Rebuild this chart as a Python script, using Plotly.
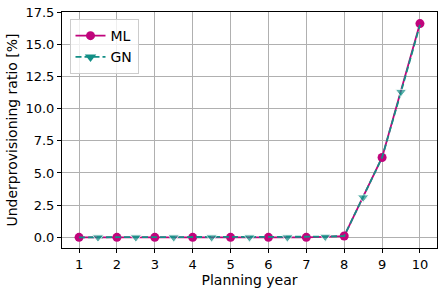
import plotly.graph_objects as go

ml_years = [1, 2, 3, 4, 5, 6, 7, 8, 9, 10]
ml_values = [0.0, 0.0, 0.0, 0.0, 0.0, 0.0, 0.0, 0.1, 6.2, 16.6]

gn_years = [1, 1.5, 2, 2.5, 3, 3.5, 4, 4.5, 5, 5.5, 6, 6.5, 7, 7.5, 8, 8.5, 9, 9.5, 10]
gn_values = [0.0, 0.0, 0.0, 0.0, 0.0, 0.0, 0.0, 0.0, 0.0, 0.0, 0.0, 0.0, 0.0, 0.05, 0.1, 3.1, 6.2, 11.3, 16.5]

x_ticks = [1, 2, 3, 4, 5, 6, 7, 8, 9, 10]
y_ticks = [0.0, 2.5, 5.0, 7.5, 10.0, 12.5, 15.0, 17.5]

ML_COLOR = "#c0047c"
GN_COLOR = "#138f86"

fig = go.Figure()
fig.add_trace(go.Scatter(
    x=ml_years, y=ml_values, name="ML", mode="lines+markers",
    line=dict(color=ML_COLOR, width=1.8),
    marker=dict(symbol="circle", size=9, color=ML_COLOR),
))
gn_line = dict(color=GN_COLOR, width=1.8, dash="6px,3px")
fig.add_trace(go.Scatter(
    x=gn_years, y=gn_values, name="GN", mode="lines+markers",
    line=gn_line, showlegend=False,
    marker=dict(symbol="triangle-down",
                size=[0 if float(v).is_integer() else 10 for v in gn_years],
                color=GN_COLOR),
))
fig.add_trace(go.Scatter(
    x=[None], y=[None], name="GN", mode="lines+markers",
    line=gn_line,
    marker=dict(symbol="triangle-down", size=10, color=GN_COLOR),
))

axis_common = dict(
    showline=True, linecolor="black", linewidth=1, mirror=True,
    ticks="outside", ticklen=4, tickcolor="black",
    showgrid=True, gridcolor="#b0b0b0", gridwidth=0.8, zeroline=False,
    tickfont=dict(size=13, color="black"), automargin=False,
)

fig.update_layout(
    width=447, height=294,
    margin=dict(l=62, r=10, t=12, b=46),
    paper_bgcolor="white", plot_bgcolor="white",
    font=dict(family="DejaVu Sans", color="black"),
    xaxis=dict(range=[0.55, 10.45], tickvals=x_ticks,
               title=dict(text="Planning year", font=dict(size=14), standoff=3),
               **axis_common),
    yaxis=dict(range=[-0.83, 17.5], tickvals=y_ticks,
               ticktext=[f"{v:.1f}" for v in y_ticks],
               title=dict(text="Underprovisioning ratio [%]", font=dict(size=14), standoff=4),
               **axis_common),
    legend=dict(x=0.02, y=0.97, xanchor="left", yanchor="top",
                bgcolor="rgba(255,255,255,0.8)", bordercolor="#cccccc", borderwidth=1,
                font=dict(size=14), tracegroupgap=0),
)

fig.write_html("out.html", config={"displayModeBar": False},
               post_script="document.body.style.margin='0';document.body.style.overflow='hidden';")
